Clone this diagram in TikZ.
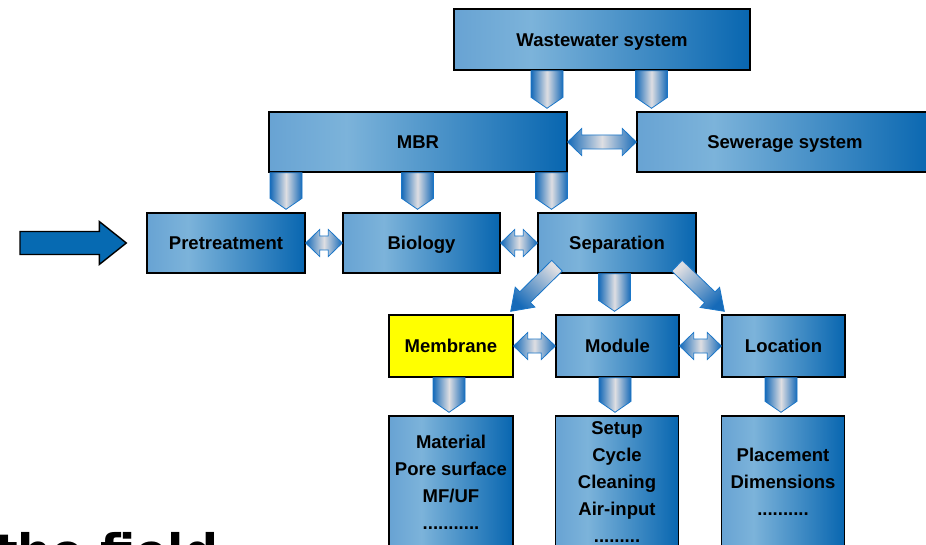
\documentclass[tikz,border=0pt]{standalone}
\usepackage{fontspec}
\setmainfont{Liberation Sans}
\newfontfamily\headfont{DejaVu Sans}
\usetikzlibrary{calc}

\definecolor{boxL}{RGB}{104,163,211}
\definecolor{boxM}{RGB}{124,179,218}
\definecolor{boxR}{RGB}{8,102,176}
\definecolor{arrBlue}{RGB}{22,106,184}
\definecolor{arrGray}{RGB}{222,222,226}
\definecolor{arrLine}{RGB}{26,118,200}
\definecolor{inBlue}{RGB}{6,106,178}
\definecolor{memYellow}{RGB}{255,255,0}

% light-to-dark blue fill of the process boxes
\pgfdeclarehorizontalshading{boxgrad}{100bp}{color(0bp)=(boxL); color(25bp)=(boxL); color(38bp)=(boxM); color(75bp)=(boxR); color(100bp)=(boxR)}

\tikzset{
  boxbase/.style={draw=black, line width=1.4pt, inner sep=0pt, align=center,
    text=black, font=\bfseries\fontsize{18.5}{27}\selectfont},
  box/.style={boxbase, shade, shading=boxgrad},
  oneline/.style={text height=13.3pt, text depth=0pt},
  % block arrow pointing down, shaft 32pt wide with a chevron tip
  downarr/.style={draw=arrLine, line width=0.8pt, line join=miter,
    left color=arrBlue, right color=arrBlue, middle color=arrGray,
    to path={let \p1=(\tikztostart), \p2=(\tikztotarget) in
      (\x1-16pt,\y1) -- (\x1+16pt,\y1) -- (\x1+16pt,\y2+11pt) -- (\x1,\y2)
      -- (\x1-16pt,\y2+11pt) -- cycle}},
  % horizontal two-headed block arrow
  dblarr/.style={draw=arrLine, line width=0.8pt, line join=miter,
    left color=arrBlue, right color=arrBlue, middle color=arrGray,
    to path={let \p1=(\tikztostart), \p2=(\tikztotarget) in
      (\x1,\y1) -- (\x1+14pt,\y1+13.5pt) -- (\x1+14pt,\y1+7pt) -- (\x2-14pt,\y1+7pt)
      -- (\x2-14pt,\y1+13.5pt) -- (\x2,\y1) -- (\x2-14pt,\y1-13.5pt) -- (\x2-14pt,\y1-7pt)
      -- (\x1+14pt,\y1-7pt) -- (\x1+14pt,\y1-13.5pt) -- cycle}},
  % slanted block arrow of any direction
  diagarr/.style={draw=arrLine, line width=0.8pt, line join=miter,
    to path={let \p1=(\tikztostart), \p2=(\tikztotarget),
      \n1={atan2(\y2-\y1,\x2-\x1)}, \n2={veclen(\x2-\x1,\y2-\y1)-20pt} in
      ([shift={(\p1)},rotate=\n1]0pt,7.5pt) -- ([shift={(\p1)},rotate=\n1]\n2,7.5pt)
      -- ([shift={(\p1)},rotate=\n1]\n2,14pt) -- (\p2)
      -- ([shift={(\p1)},rotate=\n1]\n2,-14pt) -- ([shift={(\p1)},rotate=\n1]\n2,-7.5pt)
      -- ([shift={(\p1)},rotate=\n1]0pt,-7.5pt) -- cycle}},
  % solid input arrow
  inarr/.style={draw=black, line width=1.4pt, fill=inBlue, line join=miter,
    to path={let \p1=(\tikztostart), \p2=(\tikztotarget) in
      (\x1,\y1+11.5pt) -- (\x2-27pt,\y1+11.5pt) -- (\x2-27pt,\y1+21.5pt) -- (\x2,\y1)
      -- (\x2-27pt,\y1-21.5pt) -- (\x2-27pt,\y1-11.5pt) -- (\x1,\y1-11.5pt) -- cycle}},
}

\begin{document}
\begin{tikzpicture}[x=1pt,y=-1pt]
\useasboundingbox (0,0) rectangle (926,545);
\fill[white] (0,0) rectangle (926,545);
\clip (0,0) rectangle (926,545);

% boxes
\node[box, oneline, minimum width=296pt, minimum height=61pt] (ww)  at (602,39.5) {Wastewater system};
\node[box, oneline, minimum width=298pt, minimum height=60pt] (mbr) at (418,142)  {MBR};
\node[box, oneline, minimum width=296pt, minimum height=60pt] (sew) at (785,142)  {Sewerage system};
\node[box, oneline, minimum width=158pt, minimum height=60pt] (pre) at (226,243)  {Pretreatment};
\node[box, oneline, minimum width=157pt, minimum height=60pt] (bio) at (421.5,243) {Biology};
\node[box, oneline, minimum width=158pt, minimum height=60pt] (sep) at (617,243)  {Separation};
\node[boxbase, oneline, fill=memYellow, minimum width=124pt, minimum height=62pt] (mem) at (451,346) {Membrane};
\node[box, oneline, minimum width=123pt, minimum height=62pt] (mod) at (617.5,346) {Module};
\node[box, oneline, minimum width=123pt, minimum height=62pt] (loc) at (783.5,346) {Location};
\node[box, minimum width=124pt, minimum height=132pt] (mat) at (451,482)
  {Material\\Pore surface\\MF/UF\\...........};
\node[box, minimum width=123pt, minimum height=132pt] (cyc) at (617,482)
  {Setup\\Cycle\\Cleaning\\Air-input\\.........};
\node[box, minimum width=123pt, minimum height=132pt] (plc) at (783,482)
  {Placement\\Dimensions\\..........};

% input arrow
\coordinate (src) at (20,243);
\path[inarr] (src) to ($(pre.west)+(-20,0)$);

% downward block arrows
\path[downarr] (547,0 |- ww.south)   to ($(547,0 |- mbr.north)+(0,-3)$);
\path[downarr] (651.5,0 |- ww.south) to ($(651.5,0 |- sew.north)+(0,-3)$);
\path[downarr] (286,0 |- mbr.south)  to ($(286,0 |- pre.north)+(0,-3)$);
\path[downarr] (417.5,0 |- mbr.south) to ($(417.5,0 |- bio.north)+(0,-3)$);
\path[downarr] (551.5,0 |- mbr.south) to ($(551.5,0 |- sep.north)+(0,-3)$);
\path[downarr] (614.5,0 |- sep.south) to ($(614.5,0 |- mod.north)+(0,-3)$);
\path[downarr] (449,0 |- mem.south)  to ($(449,0 |- mat.north)+(0,-3)$);
\path[downarr] (615,0 |- mod.south)  to ($(615,0 |- cyc.north)+(0,-3)$);
\path[downarr] (781,0 |- loc.south)  to ($(781,0 |- plc.north)+(0,-3)$);

% two-headed arrows
\path[dblarr] (mbr.east) to (sew.west);
\path[dblarr] (pre.east) to (bio.west);
\path[dblarr] (bio.east) to (sep.west);
\path[dblarr] (mem.east) to (mod.west);
\path[dblarr] (mod.east) to (loc.west);

% slanted arrows out of the separation box
\path[diagarr, top color=arrGray, bottom color=arrBlue, shading angle=-44]
  ($(sep.south)+(-60,-8)$) to ($(mem.north east)+(-3,-3)$);
\path[diagarr, top color=arrGray, bottom color=arrBlue, shading angle=44]
  ($(sep.south)+(60,-8)$) to ($(loc.north west)+(3,-3)$);

% heading at the lower edge
\node[anchor=base west, inner sep=0pt, text=black,
  font=\headfont\bfseries\fontsize{47.5}{50}\selectfont] (fld) at (-5,568) {the field};
\end{tikzpicture}
\end{document}
